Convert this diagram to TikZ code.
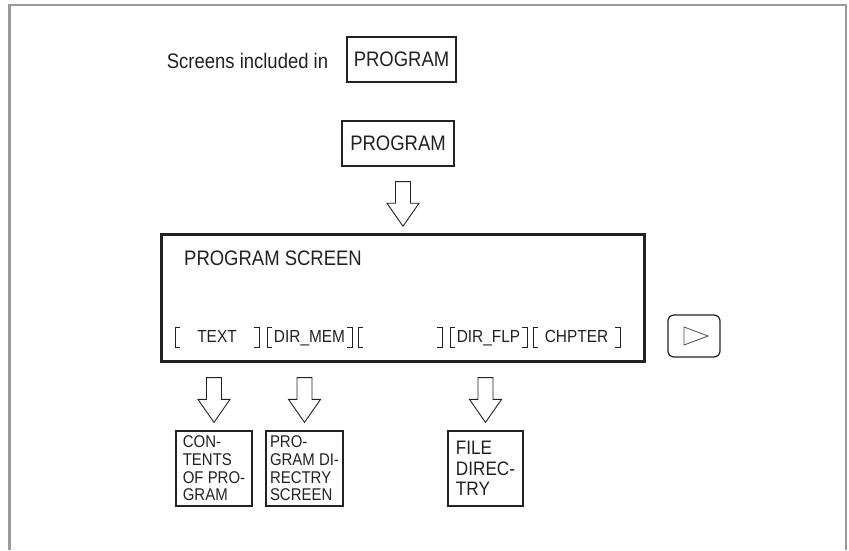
\documentclass[tikz,border=0pt]{standalone}
\usepackage{fontspec}
\setmainfont{Liberation Sans}[FakeStretch=0.88]
\usetikzlibrary{calc}
\definecolor{ink}{HTML}{222222}
\definecolor{rim}{HTML}{9A9A9A}

\begin{document}
\begin{tikzpicture}[x=1pt, y=-1pt,
  lbl/.style={text=ink, inner sep=0pt},
  big/.style={lbl, font=\fontsize{21}{21}\selectfont},
  small/.style={lbl, font=\fontsize{17.5}{17.7}\selectfont},
  box/.style={draw=ink, line width=1.2pt, align=left},
  brk/.style={draw=ink, line width=0.8pt},
  hollow/.style={draw=ink, line width=0.9pt, to path={
    let \p1=(\tikztostart), \p2=(\tikztotarget) in
    (\x1-7.5pt,\y1) -- (\x1-7.5pt,\y2+23pt) -- (\x1-16pt,\y2+23pt) -- (\x1,\y2)
    -- (\x1+16pt,\y2+23pt) -- (\x1+7.5pt,\y2+23pt) -- (\x1+7.5pt,\y1) -- cycle}}]

\useasboundingbox (0,0) rectangle (849,550);
\draw[rim, line width=2.5pt] (9.5,550) -- (9.5,5) -- (846,5) -- (846,550);

% top line
\node[big] (incl) at (247.5,60.5) {Screens included in};
\node[big, box, minimum width=109pt, minimum height=45pt] (menu) at (401.5,59.5) {PROGRAM};

% soft key and the screen
\node[big, box, minimum width=112pt, minimum height=45pt] (prog) at (398,143.5) {PROGRAM};
\node[draw=ink, line width=2.5pt, minimum width=483.4pt, minimum height=126.8pt] (screen) at (403,297.9) {};
\node[big, anchor=base west] (title) at (184,265) {PROGRAM SCREEN};
\draw[hollow] ($(prog.south -| screen.north)+(0,15)$) to ($(screen.north)+(0,-7)$);

\foreach \l/\r/\t [count=\i] in {175/259/TEXT, 267/352/DIR\_MEM, 358/442/{}, 450/527/DIR\_FLP, 533/620/CHPTER} {
  \node[small, anchor=base] (k\i) at ({(\l+\r)/2},342) {\t};
  \draw[brk] (\l+5,327.5) -- (\l,327.5) -- (\l,347.5) -- (\l+5,347.5);
  \draw[brk] (\r-5,327.5) -- (\r,327.5) -- (\r,347.5) -- (\r-5,347.5);
}

% next key
\node[draw=ink, line width=1.2pt, rounded corners=6pt, minimum width=52pt, minimum height=42pt] (next) at (694,336) {};
\draw[ink!80, line width=0.8pt] ([shift={(-10,-9)}]next.center) -- ([shift={(14,0)}]next.center) -- ([shift={(-10,9)}]next.center) -- cycle;

% screens reached
\node[box, font=\fontsize{17}{17.7}\selectfont, text=ink, inner sep=0pt, minimum width=76pt, minimum height=75pt] (cont) at (214,468.5) {CON-\\TENTS\\OF PRO-\\GRAM};
\node[box, font=\fontsize{17}{17.7}\selectfont, text=ink, inner sep=0pt, minimum width=77pt, minimum height=75pt] (pdir) at (304.5,468.5) {PRO-\\GRAM DI-\\RECTRY\\SCREEN};
\node[box, font=\fontsize{19.5}{20.5}\selectfont, text=ink, inner sep=0pt, minimum width=75pt, minimum height=75pt] (fdir) at (485.5,468.5) {FILE\\DIREC-\\TRY};
\draw[hollow] ($(screen.south -| cont.north)+(0,15)$) to ($(cont.north)+(0,-8)$);
\draw[hollow] ($(screen.south -| pdir.north)+(0,15)$) to ($(pdir.north)+(0,-8)$);
\draw[hollow] ($(screen.south -| fdir.north)+(0,15)$) to ($(fdir.north)+(0,-8)$);
\end{tikzpicture}
\end{document}
